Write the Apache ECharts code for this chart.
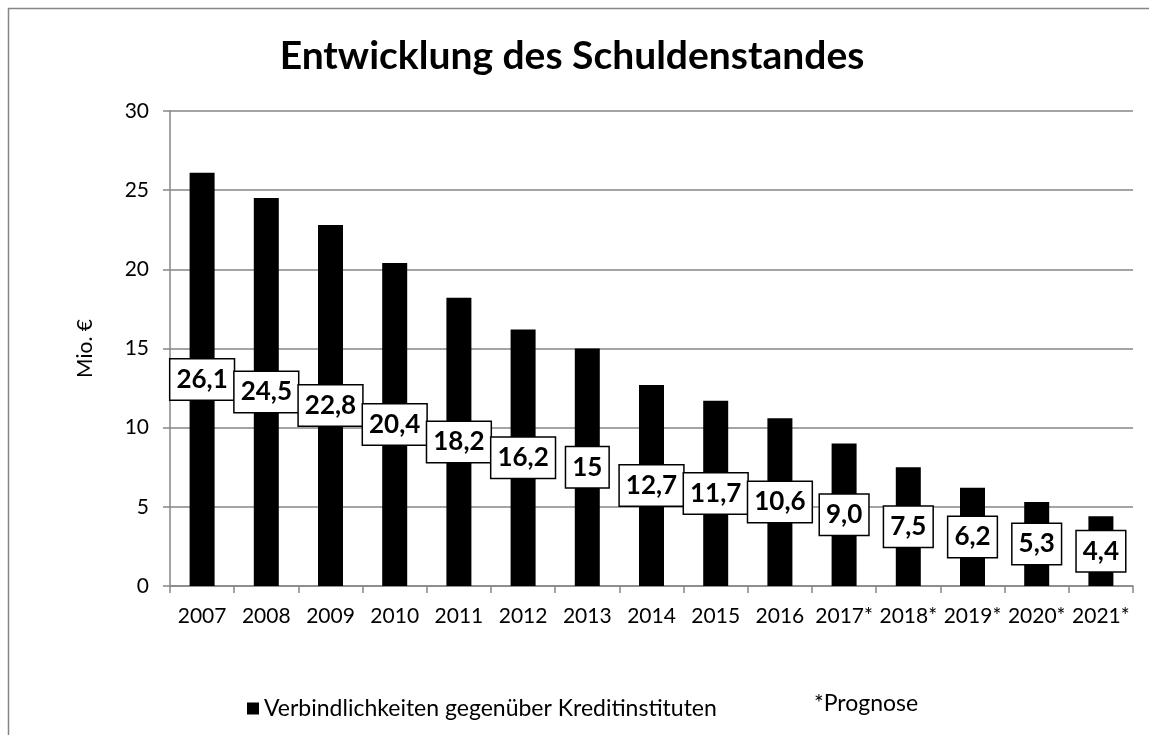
<!DOCTYPE html>
<html><head><meta charset="utf-8">
<script src="https://cdn.jsdelivr.net/npm/echarts@6/dist/echarts.min.js"></script>
<style>html,body{margin:0;padding:0;background:#fff}#c{width:1149px;height:735px}</style>
</head><body><div id="c"></div>
<script>
const categories = ['2007','2008','2009','2010','2011','2012','2013','2014','2015','2016','2017*','2018*','2019*','2020*','2021*'];
const values = [26.1,24.5,22.8,20.4,18.2,16.2,15,12.7,11.7,10.6,9.0,7.5,6.2,5.3,4.4];
const valueLabels = ['26,1','24,5','22,8','20,4','18,2','16,2','15','12,7','11,7','10,6','9,0','7,5','6,2','5,3','4,4'];
const yTicks = [0,5,10,15,20,25,30];
const FONT = 'Lato, "Open Sans", sans-serif';
const chart = echarts.init(document.getElementById('c'));
chart.setOption({
  animation:false,
  backgroundColor:'#fff',
  title:{text:'Entwicklung des Schuldenstandes',left:567,top:32,textAlign:'center',
    textStyle:{fontFamily:FONT,fontSize:39,fontWeight:'bold',color:'#000'}},
  grid:{left:170,right:16,top:111,bottom:149},
  legend:{show:true,left:242,top:692,itemWidth:12,itemHeight:12,icon:'rect',itemGap:8,
    textStyle:{fontFamily:FONT,fontSize:23,color:'#000'}},
  graphic:[
    {type:'rect',shape:{x:8.5,y:8.5,width:1200,height:800},style:{fill:null,stroke:'#868686',lineWidth:1.5},silent:true},
    {type:'text',left:814,top:692,style:{text:'*Prognose',font:'23px '+FONT,fill:'#000'}}
  ],
  xAxis:{type:'category',data:categories,boundaryGap:true,
    axisLine:{lineStyle:{color:'#868686',width:1.5}},
    axisTick:{show:true,alignWithLabel:false,length:7,lineStyle:{color:'#868686',width:1.5}},
    axisLabel:{fontFamily:FONT,fontSize:21,color:'#000',margin:20,interval:0}},
  yAxis:{type:'value',min:0,max:30,interval:5,name:'Mio. €',nameLocation:'middle',nameGap:74,
    nameTextStyle:{fontFamily:FONT,fontSize:21,color:'#000'},
    axisLine:{show:true,lineStyle:{color:'#868686',width:1.5}},
    axisTick:{show:true,length:7,lineStyle:{color:'#868686',width:1.5}},
    axisLabel:{fontFamily:FONT,fontSize:21,color:'#000',margin:21,
      formatter:v=>yTicks.includes(v)?String(v):''},
    splitLine:{lineStyle:{color:'#868686',width:1.5}}},
  series:[{type:'bar',name:'Verbindlichkeiten gegenüber Kreditinstituten',data:values,
    barWidth:25,itemStyle:{color:'#000'},
    label:{show:true,position:'inside',formatter:p=>valueLabels[p.dataIndex],
      fontFamily:FONT,fontSize:26,fontWeight:'bold',color:'#000',lineHeight:26,
      backgroundColor:'#fff',borderColor:'#000',borderWidth:1.5,padding:[8,6,6,6]}}]
});
</script></body></html>
